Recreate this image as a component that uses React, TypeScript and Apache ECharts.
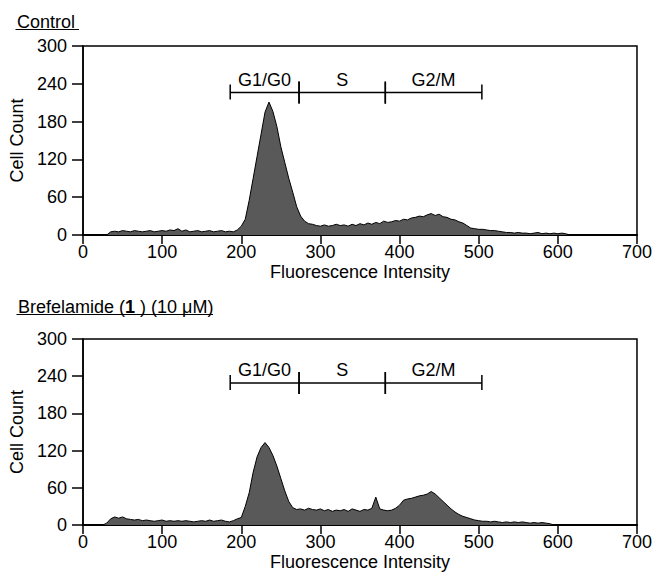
import React, { useEffect, useRef } from "react";
import * as echarts from "echarts";

// Histogram bins: start and width (fluorescence channels)
const binStart = 0;
const binWidth = 5;

// Control cell counts, bins at 0,5,...,700
const controlCounts = [
  0, 0, 0, 0, 0, 0, 0,
  5, 6, 5, 7, 6, 5, 7, 6, 5, 6,
  7, 5, 6, 7, 6, 8, 7, 10, 6, 8,
  5, 6, 7, 5, 6, 7, 5, 6, 7, 5,
  6, 5,
  8, 14, 25, 55, 90, 125, 160, 195, 211, 196,
  172, 140, 115, 90, 68, 45, 30, 22, 18, 17,
  15, 14, 16, 14, 15, 17, 15, 16, 14, 17,
  15, 18, 16, 19, 17, 20, 18, 22, 20, 21,
  23, 22, 25, 24, 27, 28, 30, 29, 32, 34,
  31, 33, 29, 28, 25, 24, 21, 19, 15, 11,
  10, 9, 9, 8, 7, 7, 6, 5, 4, 4,
  3, 4, 3, 3, 2, 3, 4, 2, 3, 2,
  3, 2, 3, 2,
  0, 0, 0, 0, 0, 0, 0, 0, 0, 0, 0, 0, 0, 0, 0, 0, 0, 0,
];

// Brefelamide (1) 10 uM cell counts, bins at 0,5,...,700
const brefCounts = [
  0, 0, 0, 0, 0, 0,
  3, 10, 13, 11, 13, 10, 9, 8, 9, 7,
  8, 7, 6, 7, 8, 6, 7, 6, 7, 6,
  7, 6, 5, 6, 7, 6, 8, 6, 7, 8,
  6, 5, 7, 10,
  12, 30, 52, 85, 110, 125, 133, 125, 112, 95,
  75, 55, 38, 28, 25, 26, 24, 27, 25, 24,
  26, 23, 25, 22, 24, 23, 25, 22, 26, 24,
  22, 25, 24, 27, 45, 26, 24, 23, 24, 27,
  32, 40, 42, 43, 45, 47, 48, 50, 54, 50,
  44, 38, 32, 26, 21, 17, 14, 12, 10, 8,
  7, 6, 6, 5, 6, 5, 4, 5, 4, 5,
  4, 5, 4, 3, 4, 3, 4, 3, 2,
  0, 0, 0, 0, 0, 0, 0, 0, 0, 0, 0, 0, 0, 0, 0, 0, 0, 0, 0, 0, 0, 0,
];

// Cell-cycle gates
const phaseNames = ["G1/G0", "S", "G2/M"];
const phaseBounds = [186, 273, 382, 504];
const gateLevelControl = 226;
const gateLevelBref = 229;

const xTicks = { min: 0, max: 700, interval: 100 };
const yTicks = { min: 0, max: 300, interval: 60 };

const FONT = "'Liberation Sans', Arial, Helvetica, sans-serif";

function toPairs(counts: number[]) {
  return counts.map((c, i) => [binStart + i * binWidth, c]);
}

function gateData(level: number) {
  return phaseNames.map((n, i) => [phaseBounds[i], phaseBounds[i + 1], level, n]);
}

function renderGate(params: any, api: any) {
  const s = api.value(0);
  const e = api.value(1);
  const lvl = api.value(2);
  const idx = params.dataIndex;
  const last = phaseNames.length - 1;
  const p0 = api.coord([s, lvl]);
  const p1 = api.coord([e, lvl]);
  const lStyle = { stroke: "#000", lineWidth: 1.5 };
  const leftLong = idx > 0;
  const rightLong = idx < last;
  const tick = (x: number, long: boolean) => ({
    type: "line",
    shape: { x1: x, y1: p0[1] - (long ? 11 : 8), x2: x, y2: p0[1] + (long ? 11 : 7) },
    style: lStyle,
  });
  return {
    type: "group",
    children: [
      { type: "line", shape: { x1: p0[0], y1: p0[1], x2: p1[0], y2: p1[1] }, style: lStyle },
      tick(p0[0], leftLong),
      tick(p1[0], rightLong),
      {
        type: "text",
        style: {
          text: phaseNames[idx],
          x: (p0[0] + p1[0]) / 2,
          y: p0[1] - 13,
          align: "center",
          verticalAlign: "middle",
          fill: "#000",
          font: `18px ${FONT}`,
        },
      },
    ],
  };
}

export default function App() {
  const ref = useRef<HTMLDivElement>(null);
  useEffect(() => {
    if (!ref.current) return;
    const chart = echarts.init(ref.current, undefined, { renderer: "svg" });
    const grids = [
      { left: 83, top: 46, width: 556, height: 189 },
      { left: 83, top: 339, width: 556, height: 186 },
    ];
    const mkX = (gi: number) => ({
      type: "value",
      gridIndex: gi,
      ...xTicks,
      name: "Fluorescence Intensity",
      nameLocation: "middle",
      nameGap: 28,
      nameTextStyle: { fontSize: 18, color: "#000", fontFamily: FONT },
      axisLine: { show: true, onZero: false, lineStyle: { color: "#000", width: 2 } },
      axisTick: { show: true, inside: false, length: 9, lineStyle: { color: "#000", width: 1.5 } },
      axisLabel: { color: "#000", fontSize: 18, fontFamily: FONT, margin: 8 },
      splitLine: { show: false },
    });
    const mkY = (gi: number) => ({
      type: "value",
      gridIndex: gi,
      ...yTicks,
      name: "Cell Count",
      nameLocation: "middle",
      nameGap: 52,
      nameTextStyle: { fontSize: 18, color: "#000", fontFamily: FONT },
      axisLine: { show: true, lineStyle: { color: "#000", width: 1.5 } },
      axisTick: { show: true, inside: false, length: 11, lineStyle: { color: "#000", width: 1.5 } },
      axisLabel: { color: "#000", fontSize: 18, fontFamily: FONT, margin: 16 },
      splitLine: { show: false },
    });
    const histSeries = (gi: number, counts: number[]) => ({
      type: "line",
      xAxisIndex: gi,
      yAxisIndex: gi,
      data: toPairs(counts),
      showSymbol: false,
      symbol: "none",
      lineStyle: { color: "#000", width: 1 },
      areaStyle: { color: "#595959", opacity: 1 },
      z: 2,
    });
    const gateSeries = (gi: number, level: number) => ({
      type: "custom",
      xAxisIndex: gi,
      yAxisIndex: gi,
      data: gateData(level),
      encode: { x: [0, 1], y: 2 },
      renderItem: renderGate,
      z: 3,
    });
    const underlinedTitle = (x: number, y: number, rich: any, text: string, ulEnd: number) => ({
      type: "group",
      children: [
        {
          type: "text",
          x,
          y,
          style: { text, rich, fill: "#000", font: `18px ${FONT}`, verticalAlign: "middle", align: "left" },
        },
        {
          type: "line",
          shape: { x1: x - 1.5, y1: y + 8, x2: ulEnd, y2: y + 8 },
          style: { stroke: "#000", lineWidth: 1.2 },
        },
      ],
    });
    chart.setOption({
      animation: false,
      backgroundColor: "#fff",
      grid: grids.map((g) => ({ ...g, show: true, borderColor: "#000", borderWidth: 1.5, backgroundColor: "transparent" })),
      xAxis: [mkX(0), mkX(1)],
      yAxis: [mkY(0), mkY(1)],
      series: [
        histSeries(0, controlCounts),
        histSeries(1, brefCounts),
        gateSeries(0, gateLevelControl),
        gateSeries(1, gateLevelBref),
      ],
      graphic: [
        underlinedTitle(17, 21.5, {}, "Control", 79),
        underlinedTitle(
          18,
          306.5,
          {
            r: { fontSize: 18, fontFamily: FONT, color: "#000" },
            b: { fontSize: 18, fontFamily: FONT, color: "#000", fontWeight: "bold" },
          },
          "{r|Brefelamide (}{b|1}{r| ) (10 μM)}",
          213
        ),
      ],
    });
    return () => chart.dispose();
  }, []);
  return <div ref={ref} style={{ position: "absolute", left: 0, top: 0, width: 655, height: 575 }} />;
}
